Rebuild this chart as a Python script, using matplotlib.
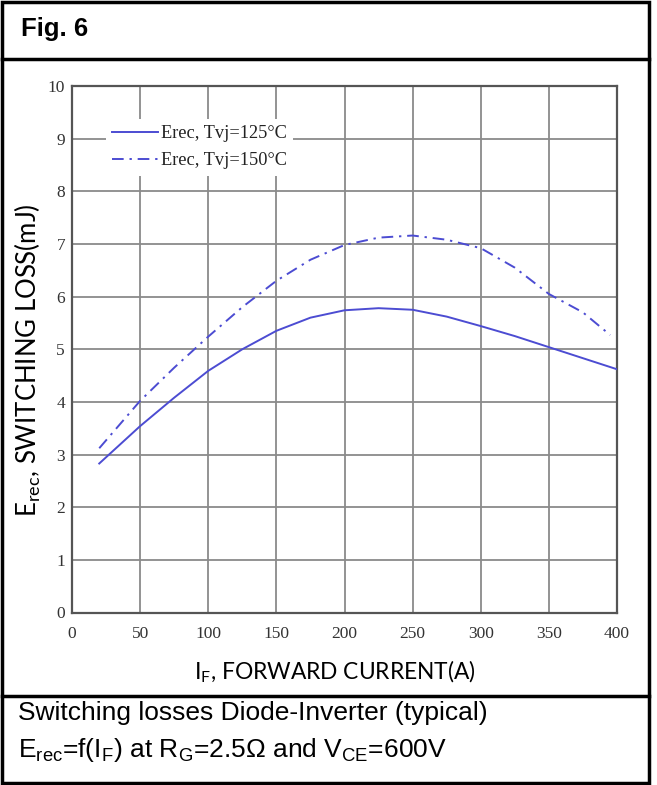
import numpy as np
import matplotlib
matplotlib.use('Agg')
from matplotlib import pyplot as plt
from matplotlib.lines import Line2D
from matplotlib.patches import Rectangle

# ------------- data -------------
i_f_125 = [20, 50, 75, 100, 125, 150, 175, 200, 225, 250, 275, 300, 325, 350, 375, 400]
e_rec_125 = [2.83, 3.54, 4.08, 4.59, 5.0, 5.35, 5.6, 5.74, 5.78, 5.75, 5.62, 5.44, 5.25, 5.04, 4.83, 4.62]

i_f_150 = [20, 50, 75, 100, 125, 150, 175, 200, 225, 250, 275, 300, 325, 350, 375, 395]
e_rec_150 = [3.12, 4.02, 4.65, 5.24, 5.8, 6.3, 6.7, 6.98, 7.12, 7.16, 7.08, 6.92, 6.55, 6.05, 5.7, 5.27]

x_ticks = [0, 50, 100, 150, 200, 250, 300, 350, 400]
y_ticks = [0, 1, 2, 3, 4, 5, 6, 7, 8, 9, 10]
labels = ['Erec, Tvj=125°C', 'Erec, Tvj=150°C']

W, H = 657, 785
fig = plt.figure(figsize=(W / 100, H / 100), dpi=100)
fig.patch.set_facecolor('white')

blue = '#4c4cd2'
grid_col = '#8a8a8a'

# ------------- plot -------------
ax = fig.add_axes([72 / W, 1 - 612.5 / H, 545 / W, 526.5 / H])
ax.plot(i_f_125, e_rec_125, color=blue, lw=1.4, label=labels[0], zorder=3)
ax.plot(i_f_150, e_rec_150, color=blue, lw=1.4, label=labels[1], zorder=3,
        linestyle=(0, (6, 3, 1.2, 3)))
ax.set_xlim(0, 400)
ax.set_ylim(0, 10)
ax.set_xticks(x_ticks)
ax.set_yticks(y_ticks)
ax.grid(True, color=grid_col, lw=1.3)
ax.tick_params(length=0, labelsize=12.5, labelcolor='#333333')
ax.tick_params(axis='x', pad=10)
ax.tick_params(axis='y', pad=5)
for lab in ax.get_xticklabels() + ax.get_yticklabels():
    lab.set_family('Liberation Serif')
for s in ax.spines.values():
    s.set_color('#555555')
    s.set_linewidth(1.6)

leg = ax.legend(loc='upper left', bbox_to_anchor=(0.045, 0.955), frameon=True,
                facecolor='white', edgecolor='none', framealpha=1,
                prop={'family': 'Liberation Serif', 'size': 13.2},
                handlelength=2.5, handletextpad=0.15, borderpad=0.35,
                labelspacing=0.55, fancybox=False)
for t in leg.get_texts():
    t.set_color('#222222')

ax.set_xlabel('I$_\\mathregular{F}$, FORWARD CURRENT(A)', family='Lato',
              fontsize=16.4)
ax.set_ylabel('E$_\\mathregular{rec}$, SWITCHING LOSS(mJ)', family='Lato',
              fontsize=18.5)
ax.xaxis.set_label_coords(0.483, -0.087)
ax.yaxis.set_label_coords(-0.053, 0.48)

# ------------- frame and texts -------------
fig.add_artist(Rectangle((2 / W, 2 / H), 647 / W, 781 / H, transform=fig.transFigure,
                         fill=False, edgecolor='black', lw=2.5))
fig.add_artist(Line2D([2 / W, 649 / W], [1 - 59 / H, 1 - 59 / H], color='black', lw=2.5))
fig.add_artist(Line2D([2 / W, 649 / W], [1 - 696 / H, 1 - 696 / H], color='black', lw=2.5))

fig.text(21 / W, 1 - 29 / H, 'Fig. 6', family='Liberation Sans', weight='bold',
         fontsize=18.5, va='center', ha='left')
fig.text(18 / W, 1 - 713 / H, 'Switching losses Diode-Inverter (typical)',
         family='Liberation Sans', fontsize=19, va='center', ha='left')
fig.text(18 / W, 1 - 750 / H,
         'E$_\\mathregular{rec}$=f(I$_\\mathregular{F}$) at R$_\\mathregular{G}$=2.5Ω and V$_\\mathregular{CE}$=600V',
         family='Liberation Sans', fontsize=19, va='center', ha='left')

fig.savefig('out.png', dpi=100)
